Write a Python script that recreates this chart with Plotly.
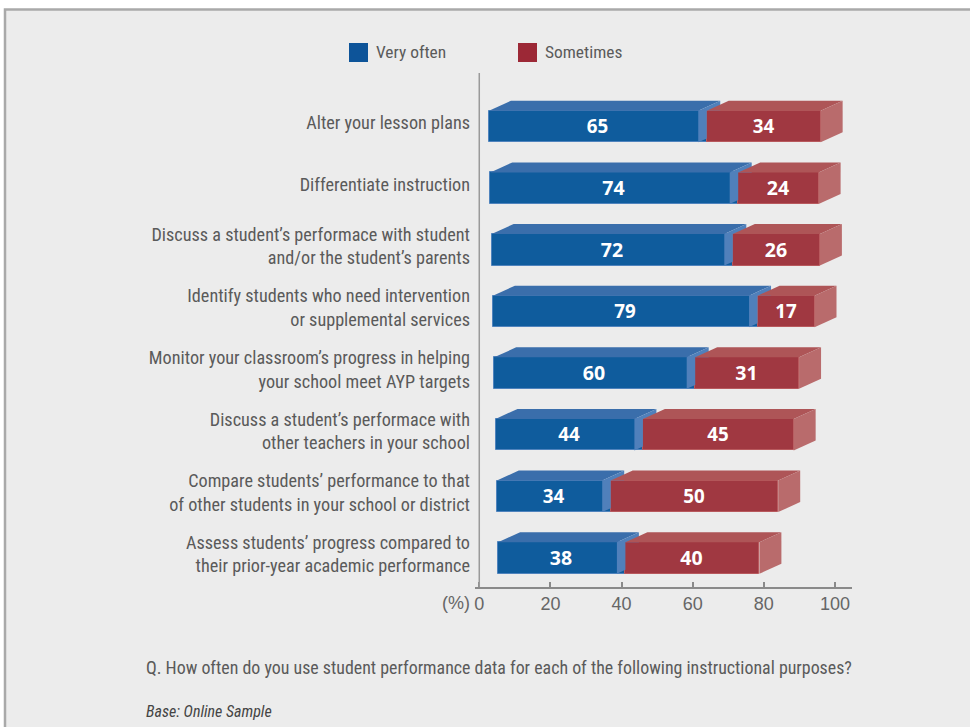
import plotly.graph_objects as go

# ---------------- data ----------------
categories = [
    "Alter your lesson plans",
    "Differentiate instruction",
    "Discuss a student’s performace with student<br>and/or the student’s parents",
    "Identify students who need intervention<br>or supplemental services",
    "Monitor your classroom’s progress in helping<br>your school meet AYP targets",
    "Discuss a student’s performace with<br>other teachers in your school",
    "Compare students’ performance to that<br>of other students in your school or district",
    "Assess students’ progress compared to<br>their prior-year academic performance",
]
very_often = [65, 74, 72, 79, 60, 44, 34, 38]
sometimes = [34, 24, 26, 17, 31, 45, 50, 40]
series_names = ["Very often", "Sometimes"]
x_ticks = [0, 20, 40, 60, 80, 100]

# ---------------- styling / geometry ----------------
W, H = 970, 727
PX_L, PX_R = 475, 852          # plot area x pixels
PX_T, PX_B = 73, 587           # plot area y pixels
ROW0_PX, ROW_STEP = 126.5, 61.64
BAR_PX_PER_UNIT = 3.35         # perspective scale of the bar front faces
DEPTH_DX, DEPTH_DY = 22, 10    # 3D depth in px
GAP_PX = 8.5
BAR_H_PX = 31.5

n = len(categories)
y_top_val = -(ROW0_PX - PX_T) / ROW_STEP
y_bot_val = (n - 1) + (PX_B - (ROW0_PX + ROW_STEP * (n - 1))) / ROW_STEP
x2_max = (PX_R - PX_L) / BAR_PX_PER_UNIT

dx = DEPTH_DX / BAR_PX_PER_UNIT
dy = DEPTH_DY / ROW_STEP
g = GAP_PX / BAR_PX_PER_UNIT
half = BAR_H_PX / ROW_STEP / 2
bases = [(489 + 1.3 * i - PX_L) / BAR_PX_PER_UNIT for i in range(n)]
rows = list(range(n))

BLUE_FRONT, BLUE_TOP, BLUE_SIDE, BLUE_EDGE = "#0f5c9d", "#3a6eab", "#5080bb", "#4f83bd"
RED_FRONT, RED_TOP, RED_SIDE, RED_EDGE = "#a03841", "#ae5557", "#b96b6c", "#b8595d"
LEG_BLUE, LEG_RED = "#0d5499", "#9c2836"
TXT = "#5a5a5a"
NARROW = "Roboto Condensed, Liberation Sans Narrow, sans-serif"
LABEL_FONT = dict(family="Open Sans, DejaVu Sans, sans-serif", size=21, color="white", weight="bold")

fig = go.Figure()
fig.add_trace(go.Bar(
    y=rows, x=very_often, base=bases, orientation="h", width=2 * half,
    xaxis="x2", yaxis="y", name=series_names[0],
    marker=dict(color=BLUE_FRONT, line=dict(color=BLUE_EDGE, width=1)),
    text=[str(v) for v in very_often], textposition="inside",
    insidetextanchor="middle", textangle=0, textfont=LABEL_FONT,
    showlegend=False, hoverinfo="skip",
))
fig.add_trace(go.Bar(
    y=rows, x=sometimes, base=[b + v for b, v in zip(bases, very_often)],
    orientation="h", width=2 * half,
    xaxis="x2", yaxis="y", name=series_names[1],
    marker=dict(color=RED_FRONT, line=dict(color=RED_EDGE, width=1)),
    text=[str(v) for v in sometimes], textposition="inside",
    insidetextanchor="middle", textangle=0, textfont=LABEL_FONT,
    showlegend=False, hoverinfo="skip",
))


def path(pts):
    return "M " + " L ".join(f"{x:.4f},{y:.4f}" for x, y in pts) + " Z"


shapes = []
# background frame
shapes.append(dict(type="rect", xref="paper", yref="paper",
                   x0=5 / W, x1=1.02, y0=-0.02, y1=1 - 9.5 / H,
                   fillcolor="#ececec", line=dict(color="#a9a9a9", width=2.5), layer="below"))

for i in rows:
    b = bases[i]
    yt, yb = i - half, i + half
    Lb, Rb = b, b + very_often[i] - g
    Lr = b + very_often[i]
    Rr = Lr + sometimes[i]
    # blue top
    shapes.append(dict(type="path", xref="x2", yref="y", layer="above",
                       path=path([(Lb, yt), (Lb + dx, yt - dy), (Rb + dx, yt - dy), (Rb, yt)]),
                       fillcolor=BLUE_TOP, line=dict(width=0)))
    # blue side (visible part)
    shapes.append(dict(type="path", xref="x2", yref="y", layer="above",
                       path=path([(Rb, yt), (Rb + dx, yt - dy), (Rb + dx, yt), (Lr, yt),
                                  (Lr, yb - dy * (Lr - Rb) / dx), (Rb, yb)]),
                       fillcolor=BLUE_SIDE, line=dict(width=0)))
    # red top
    shapes.append(dict(type="path", xref="x2", yref="y", layer="above",
                       path=path([(Lr, yt), (Lr + dx, yt - dy), (Rr + dx, yt - dy), (Rr, yt)]),
                       fillcolor=RED_TOP, line=dict(width=0)))
    # red side
    shapes.append(dict(type="path", xref="x2", yref="y", layer="above",
                       path=path([(Rr, yt), (Rr + dx, yt - dy), (Rr + dx, yb - dy), (Rr, yb)]),
                       fillcolor=RED_SIDE, line=dict(width=0)))

# vertical axis line
shapes.append(dict(type="line", xref="x", yref="paper", x0=0, x1=0,
                   y0=1 - PX_B / H, y1=1 - PX_T / H, line=dict(color="#9a9a9a", width=1.5)))

# legend swatches
for xpx, col in [(349, LEG_BLUE), (518, LEG_RED)]:
    shapes.append(dict(type="rect", xref="paper", yref="paper",
                       x0=xpx / W, x1=(xpx + 19) / W, y0=1 - 62 / H, y1=1 - 43 / H,
                       fillcolor=col, line=dict(width=0)))

annotations = []
for xpx, name in [(374, series_names[0]), (543, series_names[1])]:
    annotations.append(dict(xref="paper", yref="paper", x=xpx / W, y=1 - 52 / H,
                            xanchor="left", yanchor="middle", showarrow=False, text=name,
                            font=dict(family=NARROW, size=17.4, color=TXT)))
annotations.append(dict(xref="paper", yref="paper", x=456 / W, y=1 - 603 / H,
                        xanchor="center", yanchor="middle", showarrow=False, text="(%)",
                        font=dict(family="Liberation Sans, Arial, sans-serif", size=18, color="#666666")))
annotations.append(dict(xref="paper", yref="paper", x=144 / W, y=1 - 667 / H,
                        xanchor="left", yanchor="middle", showarrow=False,
                        text="Q. How often do you use student performance data for each of the following instructional purposes?",
                        font=dict(family=NARROW, size=17.9, color=TXT)))
annotations.append(dict(xref="paper", yref="paper", x=144 / W, y=1 - 711 / H,
                        xanchor="left", yanchor="middle", showarrow=False,
                        text="<i>Base: Online Sample</i>",
                        font=dict(family=NARROW, size=16, color="#444444")))

fig.update_layout(
    width=W, height=H, autosize=False,
    margin=dict(l=0, r=0, t=0, b=0),
    paper_bgcolor="white", plot_bgcolor="rgba(0,0,0,0)",
    barmode="overlay", bargap=0,
    shapes=shapes, annotations=annotations,
    xaxis=dict(domain=[PX_L / W, PX_R / W], range=[-1.2, 104.8], anchor="y",
               tickvals=x_ticks, ticktext=[str(t) for t in x_ticks],
               ticks="inside", ticklen=5, tickwidth=1.5, tickcolor="#8a8a8a",
               showline=True, linecolor="#8a8a8a", linewidth=1.5,
               showgrid=False, zeroline=False,
               tickfont=dict(family="Liberation Sans, Arial, sans-serif", size=18, color="#666666")),
    xaxis2=dict(domain=[PX_L / W, PX_R / W], range=[0, x2_max], overlaying="x",
                anchor="y", visible=False),
    yaxis=dict(domain=[1 - PX_B / H, 1 - PX_T / H], range=[y_bot_val, y_top_val],
               tickvals=[r - 0.06 for r in rows], ticktext=categories,
               ticks="", showgrid=False, zeroline=False, showline=False,
               ticklabelstandoff=4,
               tickfont=dict(family=NARROW, size=18.2, color=TXT)),
)

fig.write_html("out.html")
